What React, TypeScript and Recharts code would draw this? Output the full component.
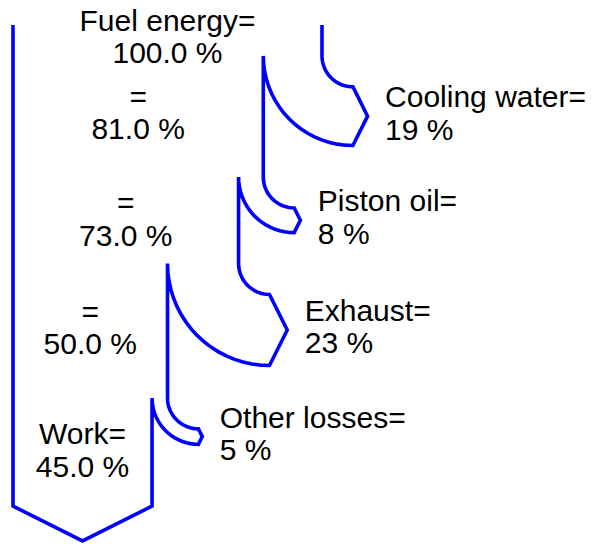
import { ComposedChart, Line, Scatter, XAxis, YAxis } from "recharts";

// flows, as fractions of the fuel energy
const trunkLabels = ["Fuel energy", "", "", "", "Work"];
const trunkValues = [1.0, 0.81, 0.73, 0.5, 0.45];
const lossLabels = ["Cooling water", "Piston oil", "Exhaust", "Other losses"];
const lossValues = [0.19, 0.08, 0.23, 0.05];

// layout in diagram units (1.0 = full fuel flow width, y up, trunk top at 0)
const BRANCH_Y = [-0.1, -0.492, -0.772, -1.207];
const BOTTOM_Y = -1.557;
const TRUNK_LABEL_Y = [-0.124, -0.369, -0.714, -1.065, -1.462];
const RADIUS = 0.1;
const HEAD = 0.5; // arrow tip length / half width
const STEPS = 18;

const W = 594;
const H = 544;
const PX = 309; // pixels per unit
const X_DOMAIN = [-13 / PX, (W - 13) / PX];
const Y_DOMAIN = [(25 - H) / PX, 25 / PX];

const BLUE = "#0000ff";
const FONT = "'Liberation Sans', Arial, Helvetica, sans-serif";
const FONT_SIZE = 30;
const LINE_GAP = 32.5;

type Pt = { x: number; y: number };
type LabelPt = Pt & { lines: string[] };

function buildOutline(): Pt[] {
  const pts: Pt[] = [{ x: trunkValues[0], y: 0 }];
  lossValues.forEach((w, i) => {
    const cx = trunkValues[i] + RADIUS;
    const y0 = BRANCH_Y[i];
    const outer = RADIUS + w;
    for (let s = 0; s <= STEPS; s++) {
      const a = Math.PI + (s / STEPS) * (Math.PI / 2);
      pts.push({ x: cx + RADIUS * Math.cos(a), y: y0 + RADIUS * Math.sin(a) });
    }
    pts.push({ x: cx + (HEAD * w) / 2, y: y0 - RADIUS - w / 2 });
    for (let s = STEPS; s >= 0; s--) {
      const a = Math.PI + (s / STEPS) * (Math.PI / 2);
      pts.push({ x: cx + outer * Math.cos(a), y: y0 + outer * Math.sin(a) });
    }
  });
  const work = trunkValues[trunkValues.length - 1];
  pts.push({ x: work, y: BOTTOM_Y });
  pts.push({ x: work / 2, y: BOTTOM_Y - (HEAD * work) / 2 });
  pts.push({ x: 0, y: BOTTOM_Y });
  pts.push({ x: 0, y: 0 });
  return pts;
}

const outline = buildOutline();

const trunkLabelPts: LabelPt[] = trunkValues.map((v, i) => ({
  x: v / 2,
  y: TRUNK_LABEL_Y[i],
  lines: [`${trunkLabels[i]}=`, `${(v * 100).toFixed(1)} %`],
}));

const lossLabelPts: LabelPt[] = lossValues.map((w, i) => ({
  x: trunkValues[i] + RADIUS + (HEAD * w) / 2,
  y: BRANCH_Y[i] - RADIUS - w / 2,
  lines: [`${lossLabels[i]}=`, `${Math.round(w * 100)} %`],
}));

const TrunkLabel = (props: any) => {
  const { cx, cy, payload } = props;
  return (
    <text textAnchor="middle" fontFamily={FONT} fontSize={FONT_SIZE} fill="#000">
      <tspan x={cx} y={cy - LINE_GAP}>{payload.lines[0]}</tspan>
      <tspan x={cx} y={cy}>{payload.lines[1]}</tspan>
    </text>
  );
};

const LossLabel = (props: any) => {
  const { cx, cy, payload } = props;
  const x = cx + 17.5;
  return (
    <text textAnchor="start" fontFamily={FONT} fontSize={FONT_SIZE} fill="#000">
      <tspan x={x} y={cy - 9}>{payload.lines[0]}</tspan>
      <tspan x={x} y={cy - 9 + LINE_GAP}>{payload.lines[1]}</tspan>
    </text>
  );
};

export default function App() {
  return (
    <div style={{ position: "absolute", left: 0, top: 0, background: "#fff" }}>
      <ComposedChart width={W} height={H} margin={{ top: 0, right: 0, bottom: 0, left: 0 }}>
        <XAxis type="number" dataKey="x" domain={X_DOMAIN} allowDataOverflow hide />
        <YAxis type="number" dataKey="y" domain={Y_DOMAIN} allowDataOverflow hide />
        <Line
          data={outline}
          dataKey="y"
          type="linear"
          stroke={BLUE}
          strokeWidth={3.6}
          strokeLinejoin="miter"
          dot={false}
          activeDot={false}
          isAnimationActive={false}
        />
        <Scatter data={trunkLabelPts} shape={TrunkLabel} isAnimationActive={false} />
        <Scatter data={lossLabelPts} shape={LossLabel} isAnimationActive={false} />
      </ComposedChart>
    </div>
  );
}
